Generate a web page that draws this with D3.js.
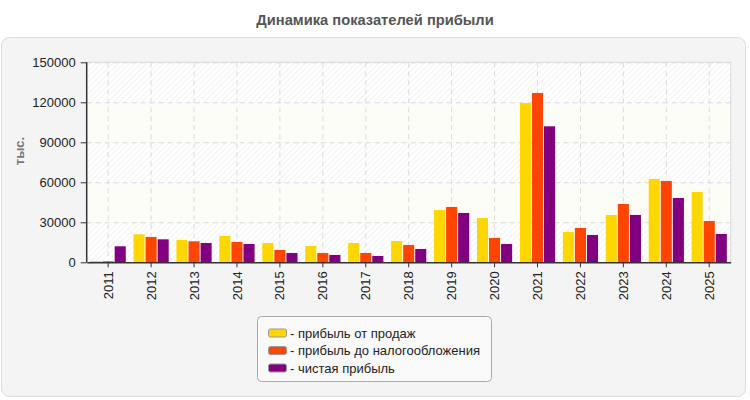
<!DOCTYPE html>
<html><head><meta charset="utf-8">
<script src="https://cdn.jsdelivr.net/npm/d3@7"></script>
<style>body{margin:0;background:#fff;}svg{display:block;font-family:"Liberation Sans",Arial,sans-serif;}</style>
</head><body>
<script>
const years = ["2011","2012","2013","2014","2015","2016","2017","2018","2019","2020","2021","2022","2023","2024","2025"];
const salesProfit = [1000,21000,16750,19750,14500,12250,14500,16000,39250,33250,119500,22750,35500,62500,52750];
const pretaxProfit = [800,19000,15750,15250,9250,7000,7000,13000,41500,18250,127000,25750,43750,61000,31000];
const netProfit = [12000,17250,14500,13750,7000,5500,4750,10000,37000,13750,102000,20500,35500,48250,21250];
const seriesNames = ["- прибыль от продаж","- прибыль до налогообложения","- чистая прибыль"];
const seriesColors = ["#FFD700","#FF4500","#800080"];
const yTicks = [0,30000,60000,90000,120000,150000];
const title = "Динамика показателей прибыли";
const yLabel = "тыс.";

const W = 750, H = 400;
const svg = d3.select("body").append("svg").attr("width", W).attr("height", H);
const defs = svg.append("defs");
const pat = defs.append("pattern").attr("id","hatch").attr("patternUnits","userSpaceOnUse")
  .attr("width",4).attr("height",4).attr("patternTransform","rotate(45)");
pat.append("rect").attr("width",4).attr("height",4).attr("fill","#ffffff");
pat.append("line").attr("x1",0).attr("y1",0).attr("x2",0).attr("y2",4).attr("stroke","#eeeeee").attr("stroke-width",1.5);

svg.append("rect").attr("x",1.5).attr("y",37.5).attr("width",744).attr("height",359).attr("rx",8)
  .attr("fill","#f4f4f4").attr("stroke","#dcdcdc");

svg.append("text").attr("x",375).attr("y",25).attr("text-anchor","middle")
  .attr("font-size",14.7).attr("font-weight","bold").attr("fill","#555").text(title);

const L = 86.7, R = 730.7, T = 62.3, B = 262.3;
const y = d3.scaleLinear().domain([0,150000]).range([B,T]);
const x0 = d3.scaleBand().domain(years).range([L,R]).paddingInner(0.18).paddingOuter(0.09);
const x1 = d3.scaleBand().domain([0,1,2]).range([0,x0.bandwidth()]).paddingInner(0.08);

// background bands
const g = svg.append("g");
for (let i=0;i<yTicks.length-1;i++){
  const y0 = y(yTicks[i]), yb = y(yTicks[i+1]);
  g.append("rect").attr("x",L).attr("y",yb).attr("width",R-L).attr("height",y0-yb)
    .attr("fill", i%2===0 ? "url(#hatch)" : "#fdfdf8");
}
// grid
svg.append("g").selectAll("line").data(yTicks.slice(1)).join("line")
  .attr("x1",L).attr("x2",R).attr("y1",d=>y(d)+0.5).attr("y2",d=>y(d)+0.5)
  .attr("stroke","#dadada").attr("stroke-dasharray","5,4");
svg.append("g").selectAll("line").data(years).join("line")
  .attr("x1",d=>x0(d)+x0.bandwidth()/2).attr("x2",d=>x0(d)+x0.bandwidth()/2)
  .attr("y1",T).attr("y2",B).attr("stroke","#dadada").attr("stroke-dasharray","5,4");
// frame top/right
svg.append("line").attr("x1",L).attr("x2",R).attr("y1",T).attr("y2",T).attr("stroke","#dadada");
svg.append("line").attr("x1",R).attr("x2",R).attr("y1",T).attr("y2",B).attr("stroke","#dadada");

// bars
const series = [salesProfit, pretaxProfit, netProfit];
const bars = svg.append("g");
years.forEach((yr,i)=>{
  series.forEach((s,j)=>{
    bars.append("rect").attr("x",x0(yr)+x1(j)).attr("width",x1.bandwidth())
      .attr("y",y(s[i])).attr("height",B-y(s[i])).attr("fill",seriesColors[j]);
  });
});

// axes
const yAxis = svg.append("g").attr("transform",`translate(${L},0)`)
  .call(d3.axisLeft(y).tickValues(yTicks).tickSize(6).tickPadding(5).tickFormat(d3.format("d")));
yAxis.select(".domain").attr("stroke","#333").attr("stroke-width",1.5).attr("d",`M0,${T}V${B}`);
yAxis.selectAll(".tick line").attr("stroke","#333");
yAxis.selectAll("text").attr("font-size",13).attr("fill","#222").attr("font-family","Liberation Sans, Arial, sans-serif");

const xAxis = svg.append("g").attr("transform",`translate(0,${B})`)
  .call(d3.axisBottom(x0).tickSize(5).tickSizeOuter(0));
xAxis.select(".domain").attr("stroke","#333").attr("stroke-width",1.5);
xAxis.selectAll(".tick line").attr("stroke","#333");
xAxis.selectAll("text").attr("font-size",13).attr("fill","#222").attr("font-family","Liberation Sans, Arial, sans-serif")
  .attr("transform","rotate(-90)").attr("text-anchor","end").attr("x",-9).attr("y",0).attr("dy","0.35em");

svg.append("text").attr("transform","translate(24,151) rotate(-90)").attr("text-anchor","middle")
  .attr("font-size",13).attr("font-weight","bold").attr("fill","#777").text(yLabel);

// legend
const lg = svg.append("g");
lg.append("rect").attr("x",257.5).attr("y",316.5).attr("width",234).attr("height",65).attr("rx",4)
  .attr("fill","#f9f9f9").attr("stroke","#aaa");
seriesNames.forEach((n,i)=>{
  const cy = 333 + i*17.5;
  lg.append("rect").attr("x",268.5).attr("y",cy-4).attr("width",18).attr("height",8).attr("rx",2)
    .attr("fill",seriesColors[i]).attr("stroke","#999");
  lg.append("text").attr("x",290).attr("y",cy).attr("dy","0.35em").attr("font-size",13).attr("fill","#222").text(n);
});
</script>
</body></html>
